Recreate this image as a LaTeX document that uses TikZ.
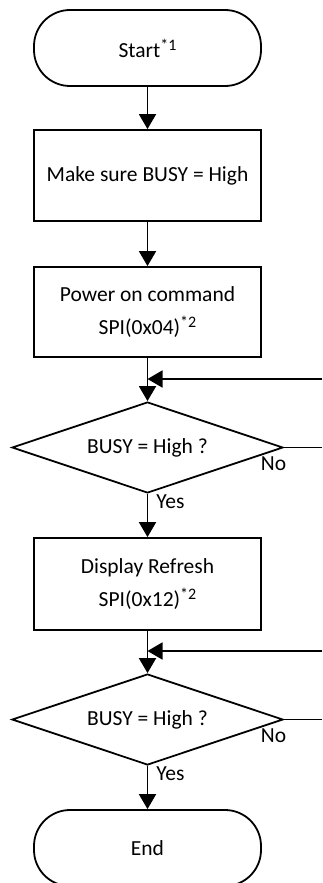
\documentclass[tikz,border=0pt]{standalone}
\usepackage{fontspec}
\setmainfont{Carlito}
\usetikzlibrary{shapes.geometric,arrows.meta}

\newcommand{\footmark}[1]{\raisebox{7pt}{\fontsize{16}{16}\selectfont *#1}}

\tikzset{
  termbox/.style={draw, line width=1.8pt, rounded corners=36pt, minimum width=227pt, minimum height=76pt, inner sep=0pt},
  flowbox/.style={draw, line width=1.8pt, minimum width=227pt, align=center, inner sep=0pt},
  testbox/.style={draw, diamond, aspect=3, line width=1.8pt, minimum width=271pt, minimum height=91pt, inner sep=0pt},
  flowline/.style={line width=1.8pt, -{Triangle[length=15pt,width=17pt]}},
  plainline/.style={line width=1.8pt},
  answer/.style={inner sep=0pt}
}

\begin{document}
\begin{tikzpicture}[x=1pt, y=-1pt, font=\fontsize{21.5}{33}\selectfont]
    \useasboundingbox (0,0) rectangle (322,883);

    % the blocks, top to bottom
    \node[termbox] (start) at (147.5,48) {Start\footmark{1}};
    \node[flowbox, minimum height=91pt] (check) at (147.5,175.5) {Make sure BUSY = High};
    \node[flowbox, minimum height=90pt] (poweron) at (147.5,312) {Power on command\\SPI(0x04)\footmark{2}};
    \node[testbox] (busya) at (147.5,447.5) {BUSY = High ?};
    \node[flowbox, minimum height=92pt] (refresh) at (147.5,584) {Display Refresh\\SPI(0x12)\footmark{2}};
    \node[testbox] (busyb) at (147.5,719.5) {BUSY = High ?};
    \node[termbox] (end) at (147.5,848) {End};

    % loop ends at the right margin
    \coordinate (joina) at (147.5,379);
    \coordinate (backa) at (322,379);
    \coordinate (outa) at (322,447.5);
    \coordinate (joinb) at (147.5,651);
    \coordinate (backb) at (322,651);
    \coordinate (outb) at (322,719.5);

    \draw[flowline] (start) -- (check);
    \draw[flowline] (check) -- (poweron);
    \draw[flowline] (poweron) -- (busya);
    \draw[flowline] (backa) -- (joina);
    \draw[plainline] (busya.east) -- (outa);
    \draw[flowline] (busya) -- (refresh);
    \draw[flowline] (refresh) -- (busyb);
    \draw[flowline] (backb) -- (joinb);
    \draw[plainline] (busyb.east) -- (outb);
    \draw[flowline] (busyb) -- (end);

    \node[answer] (noa) at (273.5,464) {No};
    \node[answer] (yesa) at (170.5,502) {Yes};
    \node[answer] (nob) at (273.5,736) {No};
    \node[answer] (yesb) at (170.5,774) {Yes};
\end{tikzpicture}
\end{document}
